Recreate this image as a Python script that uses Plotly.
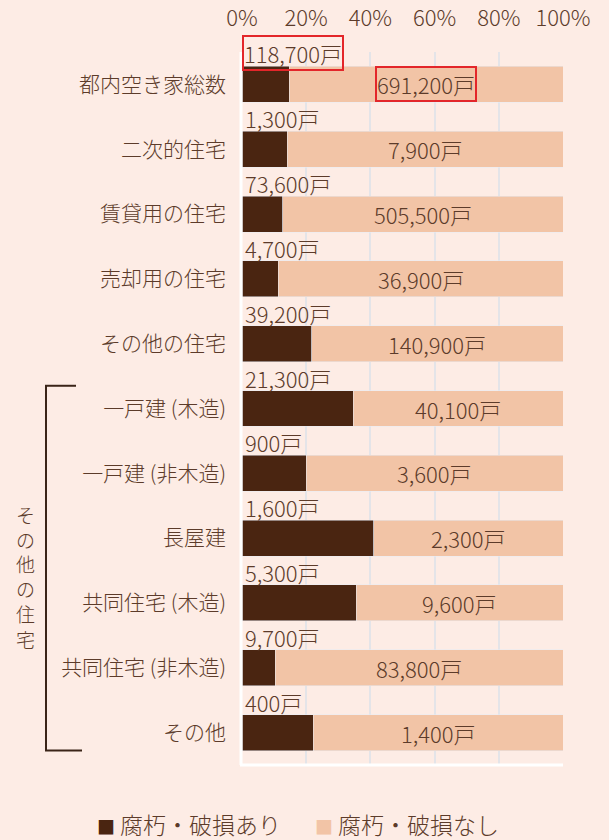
import plotly.graph_objects as go

# Vacant-house counts in Tokyo, split by decay / damage status
categories = [
    "都内空き家総数", "二次的住宅", "賃貸用の住宅", "売却用の住宅", "その他の住宅",
    "一戸建 (木造)", "一戸建 (非木造)", "長屋建", "共同住宅 (木造)", "共同住宅 (非木造)", "その他",
]
damaged = [118700, 1300, 73600, 4700, 39200, 21300, 900, 1600, 5300, 9700, 400]
undamaged = [691200, 7900, 505500, 36900, 140900, 40100, 3600, 2300, 9600, 83800, 1400]
series_names = ["腐朽・破損あり", "腐朽・破損なし"]
tick_vals = [0, 20, 40, 60, 80, 100]
tick_text = ["0%", "20%", "40%", "60%", "80%", "100%"]
group_label = "その他の住宅"

BG = "#fdece5"
DARK = "#4a2511"
LIGHT = "#f2c4a6"
TXT = "#5c3b2a"
RED = "#e3262a"
FONT = "Noto Sans CJK JP"
W = 300  # light text weight

# plot area in pixels (used to place the decorations)
PL, PR, PT, PB = 242, 563, 52, 765.5


def px(x):
    return (x - PL) / (PR - PL)


def py(y):
    return (PB - y) / (PB - PT)


fig = go.Figure()
fig.add_trace(go.Bar(y=categories, x=damaged, orientation="h", marker_color=DARK,
                     name=series_names[0], width=0.555, hoverinfo="skip"))
fig.add_trace(go.Bar(y=categories, x=undamaged, orientation="h", marker_color=LIGHT,
                     name=series_names[1], width=0.555, hoverinfo="skip"))

annotations = []
for i, (cat, d, u) in enumerate(zip(categories, damaged, undamaged)):
    total = d + u
    pd_ = d / total * 100
    pu = u / total * 100
    boxed = dict(bordercolor=RED, borderwidth=2, borderpad=0) if i == 0 else {}
    annotations.append(dict(
        x=0, y=cat, xref="x", yref="y", text=f"{d:,}戸", showarrow=False,
        xanchor="left", yanchor="middle", xshift=0 if i == 0 else 1, yshift=31,
        font=dict(family=FONT, size=22, color=TXT, weight=W), **boxed))
    annotations.append(dict(
        x=pd_ + pu / 2, y=cat, xref="x", yref="y", text=f"{u:,}戸", showarrow=False,
        xanchor="center", yanchor="middle",
        font=dict(family=FONT, size=22, color=TXT, weight=W), **boxed))

# vertical group label, one character per line
annotations.append(dict(
    x=px(25), y=py(577), xref="paper", yref="paper", showarrow=False,
    text="<br>".join(group_label), xanchor="center", yanchor="middle",
    font=dict(family=FONT, size=19, color=TXT, weight=W)))

# legend drawn as text
legend_items = [(DARK, series_names[0], 95), (LIGHT, series_names[1], 313)]
for col, name, xp in legend_items:
    annotations.append(dict(
        x=px(xp), y=py(825), xref="paper", yref="paper", showarrow=False,
        xanchor="left", yanchor="middle",
        text=f"<span style='color:{col};font-size:18px'>■</span> {name}",
        font=dict(family=FONT, size=23, color=TXT, weight=W)))

BR = "#3a2418"
shapes = [
    # bracket around the breakdown of "その他の住宅"
    dict(type="line", xref="paper", yref="paper", x0=px(46), x1=px(46), y0=py(751), y1=py(386),
         line=dict(color=BR, width=2)),
    dict(type="line", xref="paper", yref="paper", x0=px(45), x1=px(76), y0=py(386), y1=py(386),
         line=dict(color=BR, width=2)),
    dict(type="line", xref="paper", yref="paper", x0=px(45), x1=px(82), y0=py(751), y1=py(751),
         line=dict(color=BR, width=2)),
    # white frame lines on the left and bottom of the plot area
    dict(type="line", xref="paper", yref="paper", x0=px(241), x1=px(241), y0=0, y1=1,
         line=dict(color="white", width=3), layer="above"),
    dict(type="line", xref="paper", yref="paper", x0=px(240), x1=1.0, y0=0, y1=0,
         line=dict(color="white", width=3), layer="above"),
]

fig.update_layout(
    width=609, height=840,
    margin=dict(l=PL, r=609 - PR, t=PT, b=840 - PB, autoexpand=False),
    paper_bgcolor=BG, plot_bgcolor=BG,
    barmode="stack", barnorm="percent",
    showlegend=False,
    font=dict(family=FONT, color=TXT),
    xaxis=dict(side="top", range=[0, 100], tickvals=tick_vals, ticktext=tick_text,
               showgrid=True, gridcolor="#e4e4e8", gridwidth=2, zeroline=False,
               showline=False, ticks="", ticklabelstandoff=21, automargin=False,
               tickfont=dict(family=FONT, size=22, color=TXT, weight=W), fixedrange=True),
    yaxis=dict(range=[len(categories) - 0.5, -0.5], showgrid=False, zeroline=False,
               showline=False, ticks="", ticklabelstandoff=15, automargin=False,
               tickfont=dict(family=FONT, size=21, color=TXT, weight=W), fixedrange=True),
    annotations=annotations,
    shapes=shapes,
)

fig.write_html("out.html")
